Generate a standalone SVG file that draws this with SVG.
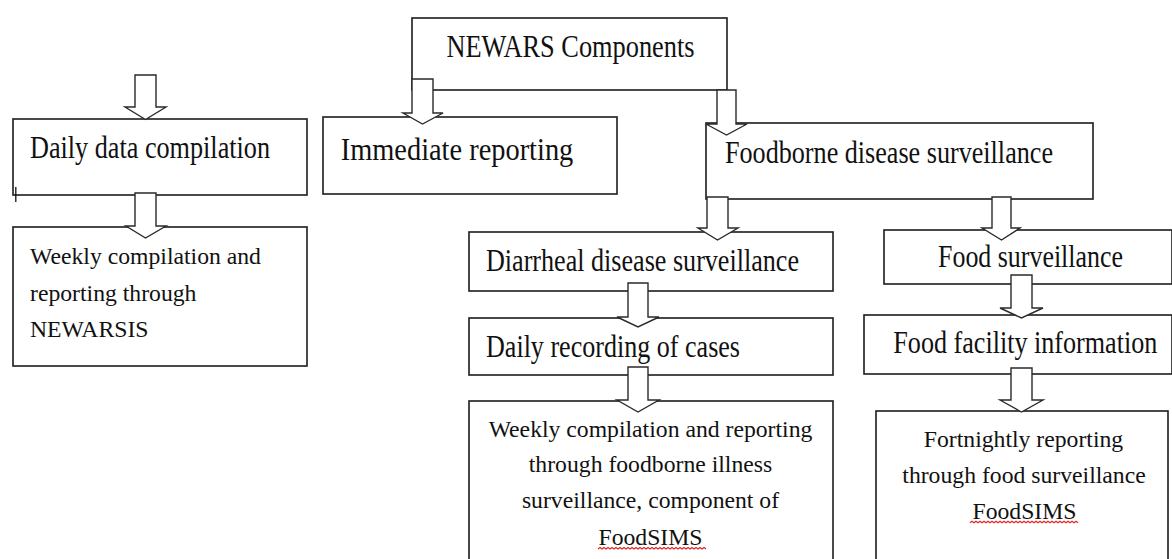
<svg xmlns="http://www.w3.org/2000/svg" width="1172" height="559" viewBox="0 0 1172 559">
<style>
.box{fill:#fff;stroke:#1c1c1c;stroke-width:1.6}
.arr{fill:#fff;stroke:#2a2a2a;stroke-width:1.4;stroke-linejoin:miter}
.big{font-family:"Liberation Serif","Times New Roman",serif;font-size:26px;fill:#111}
.sm{font-family:"Liberation Serif","Times New Roman",serif;font-size:23.7px;fill:#111}
.mid{text-anchor:middle}
.wave{fill:none;stroke:#e02020;stroke-width:1.1}
</style>
<rect width="1172" height="559" fill="#fff"/>
<g id="newars"><rect class="box" x="412" y="18" width="315" height="72"/><text class="big" transform="matrix(1,0,0,1.19,446.5,57.3)" textLength="248" lengthAdjust="spacingAndGlyphs">NEWARS Components</text></g>
<g id="daily-data"><rect class="box" x="13" y="119" width="294" height="76"/><text class="big" transform="matrix(1,0,0,1.19,30,158.3)" textLength="240" lengthAdjust="spacingAndGlyphs">Daily data compilation</text><line x1="15.8" y1="187" x2="15.8" y2="202" stroke="#111" stroke-width="1.3"/></g>
<g id="immediate"><rect class="box" x="323" y="117" width="294" height="77"/><text class="big" transform="matrix(1,0,0,1.19,340.7,160)" textLength="232.6" lengthAdjust="spacingAndGlyphs">Immediate reporting</text></g>
<g id="foodborne"><rect class="box" x="706" y="123" width="387" height="76"/><text class="big" transform="matrix(1,0,0,1.19,725,162.5)" textLength="328" lengthAdjust="spacingAndGlyphs">Foodborne disease surveillance</text></g>
<g id="weekly-left"><rect class="box" x="13" y="227" width="294" height="139"/><text class="sm" x="30" y="264">Weekly compilation and</text><text class="sm" x="30" y="300.5">reporting through</text><text class="sm" x="30" y="336.7">NEWARSIS</text></g>
<g id="diarrheal"><rect class="box" x="469" y="232" width="364" height="59"/><text class="big" transform="matrix(1,0,0,1.19,486,270.7)" textLength="313" lengthAdjust="spacingAndGlyphs">Diarrheal disease surveillance</text></g>
<g id="food-surveillance"><rect class="box" x="884" y="230" width="288" height="54"/><text class="big" transform="matrix(1,0,0,1.19,938,267.3)" textLength="185" lengthAdjust="spacingAndGlyphs">Food surveillance</text></g>
<g id="daily-recording"><rect class="box" x="469" y="318" width="364" height="57"/><text class="big" transform="matrix(1,0,0,1.19,486,356.7)" textLength="254" lengthAdjust="spacingAndGlyphs">Daily recording of cases</text></g>
<g id="food-facility"><rect class="box" x="864" y="315" width="308" height="59"/><text class="big" transform="matrix(1,0,0,1.19,893.3,353)" textLength="264" lengthAdjust="spacingAndGlyphs">Food facility information</text></g>
<g id="weekly-center"><rect class="box" x="469" y="401" width="364" height="170"/><text class="sm mid" x="650.5" y="436.7">Weekly compilation and reporting</text><text class="sm mid" x="650.5" y="471.7">through foodborne illness</text><text class="sm mid" x="650.5" y="508">surveillance, component of</text><text class="sm mid" x="650.5" y="545">FoodSIMS</text><path class="wave" d="M598,549 l2,-1.5 l2,1.5 l2,-1.5 l2,1.5 l2,-1.5 l2,1.5 l2,-1.5 l2,1.5 l2,-1.5 l2,1.5 l2,-1.5 l2,1.5 l2,-1.5 l2,1.5 l2,-1.5 l2,1.5 l2,-1.5 l2,1.5 l2,-1.5 l2,1.5 l2,-1.5 l2,1.5 l2,-1.5 l2,1.5 l2,-1.5 l2,1.5 l2,-1.5 l2,1.5 l2,-1.5 l2,1.5 l2,-1.5 l2,1.5 l2,-1.5 l2,1.5 l2,-1.5 l2,1.5 l2,-1.5 l2,1.5 l2,-1.5 l2,1.5 l2,-1.5 l2,1.5 l2,-1.5 l2,1.5 l2,-1.5 l2,1.5 l2,-1.5 l2,1.5 l2,-1.5 l2,1.5 l2,-1.5 l2,1.5 l2,-1.5 l2,1.5"/></g>
<g id="fortnightly"><rect class="box" x="876" y="411" width="292" height="160"/><text class="sm mid" x="1023.5" y="446.7">Fortnightly reporting</text><text class="sm mid" x="1024" y="483.3">through food surveillance</text><text class="sm mid" x="1024.5" y="519.3">FoodSIMS</text><path class="wave" d="M970,522.8 l2,-1.5 l2,1.5 l2,-1.5 l2,1.5 l2,-1.5 l2,1.5 l2,-1.5 l2,1.5 l2,-1.5 l2,1.5 l2,-1.5 l2,1.5 l2,-1.5 l2,1.5 l2,-1.5 l2,1.5 l2,-1.5 l2,1.5 l2,-1.5 l2,1.5 l2,-1.5 l2,1.5 l2,-1.5 l2,1.5 l2,-1.5 l2,1.5 l2,-1.5 l2,1.5 l2,-1.5 l2,1.5 l2,-1.5 l2,1.5 l2,-1.5 l2,1.5 l2,-1.5 l2,1.5 l2,-1.5 l2,1.5 l2,-1.5 l2,1.5 l2,-1.5 l2,1.5 l2,-1.5 l2,1.5 l2,-1.5 l2,1.5 l2,-1.5 l2,1.5 l2,-1.5 l2,1.5 l2,-1.5 l2,1.5 l2,-1.5 l2,1.5"/></g>
<g id="connectors">
<path class="arr" d="M135,75 H156 V107 H166 L145.5,119.5 L125,107 H135 Z"/>
<path class="arr" d="M135,193 H156 V226 H166 L145.5,238 L126,226 H135 Z"/>
<path class="arr" d="M412,79 H433 V113 H443 L422.5,124 L403,113 H412 Z"/>
<path class="arr" d="M717,90 H736 V124 H747 L726.5,135 L706,124 H717 Z"/>
<path class="arr" d="M707,197 H728 V228 H738 L717.5,240 L698,228 H707 Z"/>
<path class="arr" d="M992,197 H1011 V228 H1020 L1001.5,240 L982,228 H992 Z"/>
<path class="arr" d="M628,283 H648 V317 H659 L638,327 L617,317 H628 Z"/>
<path class="arr" d="M628,367 H648 V400 H659 L638,412 L617,400 H628 Z"/>
<path class="arr" d="M1011,275 H1032 V308 H1043 L1021.5,318 L1000,308 H1011 Z"/>
<path class="arr" d="M1011,368 H1032 V400 H1043 L1021.5,412 L1000,400 H1011 Z"/>
</g>
</svg>
